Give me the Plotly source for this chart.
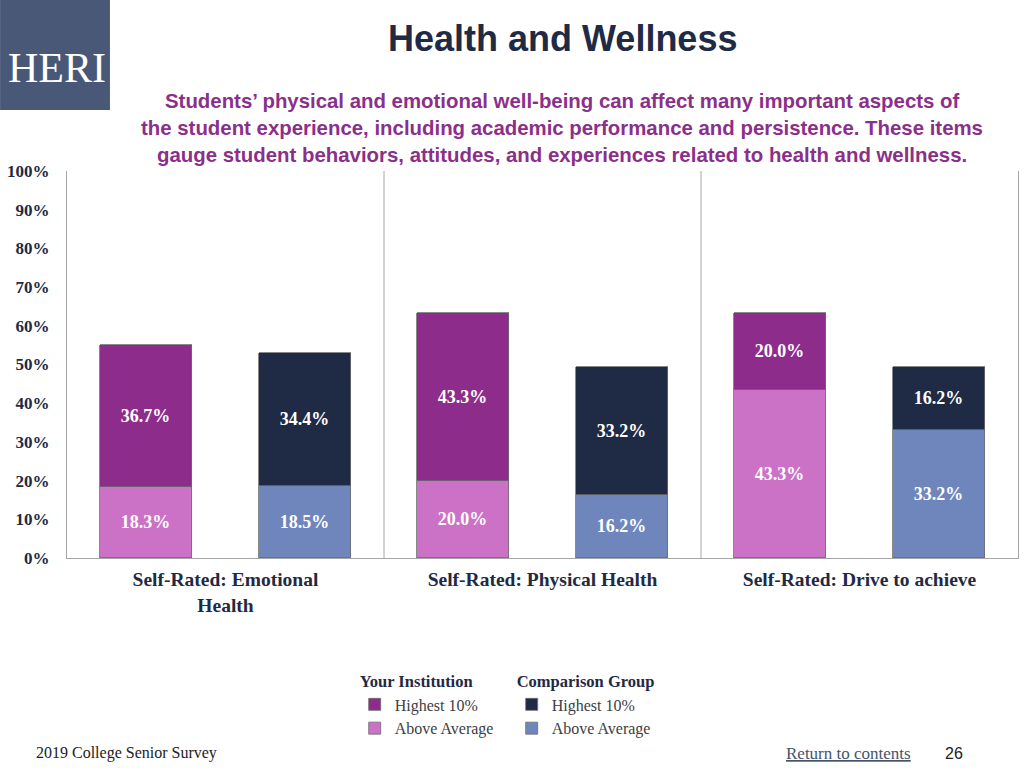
import plotly.graph_objects as go

# ---- data ----
categories = ["Self-Rated: Emotional<br>Health", "Self-Rated: Physical Health", "Self-Rated: Drive to achieve"]
yi_above = [18.3, 20.0, 43.3]
yi_highest = [36.7, 43.3, 20.0]
cg_above = [18.5, 16.2, 33.2]
cg_highest = [34.4, 33.2, 16.2]
y_ticks = [0, 10, 20, 30, 40, 50, 60, 70, 80, 90, 100]
y_tick_labels = [f"{v}%" for v in y_ticks]

title_text = "Health and Wellness"
subtitle_lines = [
    "Students’ physical and emotional well-being can affect many important aspects of",
    "the student experience, including academic performance and persistence. These items",
    "gauge student behaviors, attitudes, and experiences related to health and wellness.",
]

# ---- styles ----
C_YI_HI = "#8E2C8C"
C_YI_AV = "#CC72C6"
C_CG_HI = "#1F2A44"
C_CG_AV = "#6F86BD"
NAVY = "#1F2A44"
GRID = "#A6A6A6"
SERIF = "Liberation Serif"
SANS = "Liberation Sans"

idx = list(range(len(categories)))
x_yi = [i - 0.25 for i in idx]
x_cg = [i + 0.25 for i in idx]
BW = 0.29

fig = go.Figure()

def add_bar(x, y, color, name, group, gtitle, rank):
    fig.add_trace(go.Bar(
        x=x, y=y, width=BW, name=name,
        marker=dict(color=color, line=dict(color="#6b6b6b", width=0.8)),
        texttemplate="%{y:.1f}%", textposition="inside", insidetextanchor="middle",
        textangle=0, constraintext="none",
        textfont=dict(family=SERIF, size=18, color="white", weight="bold"),
        legendgroup=group,
        legendgrouptitle=dict(text=gtitle, font=dict(family=SERIF, size=16.5, color=NAVY, weight="bold")),
        legendrank=rank, hoverinfo="skip",
    ))

add_bar(x_yi, yi_above, C_YI_AV, "Above Average", "yi", "Your Institution", 2)
add_bar(x_yi, yi_highest, C_YI_HI, "Highest 10%", "yi", "Your Institution", 1)
add_bar(x_cg, cg_above, C_CG_AV, "Above Average", "cg", "Comparison Group", 4)
add_bar(x_cg, cg_highest, C_CG_HI, "Highest 10%", "cg", "Comparison Group", 3)

def px_x(px):
    return (px - 67) / 952

def px_y(py):
    return (558 - py) / 387

shapes = []
for i in idx[:-1]:
    shapes.append(dict(type="line", xref="x", yref="y", x0=i + 0.5, x1=i + 0.5, y0=0, y1=100,
                       line=dict(color=GRID, width=1)))
# logo box
shapes.append(dict(type="rect", xref="paper", yref="paper",
                   x0=px_x(0), x1=px_x(110), y0=px_y(0), y1=px_y(110),
                   fillcolor="#4A5878", line=dict(width=0), layer="below"))

annotations = [
    dict(text="HERI", x=px_x(57), y=px_y(68), xref="paper", yref="paper", showarrow=False,
         font=dict(family=SERIF, size=42, color="white"), xanchor="center", yanchor="middle"),
    dict(text=title_text, x=px_x(563), y=px_y(38), xref="paper", yref="paper", showarrow=False,
         font=dict(family=SANS, size=36, color=NAVY, weight="bold"), xanchor="center", yanchor="middle"),
    dict(text="2019 College Senior Survey", x=px_x(34), y=px_y(753), xref="paper", yref="paper",
         showarrow=False, font=dict(family=SERIF, size=16, color="#222222"), xanchor="left", yanchor="middle"),
    dict(text="<u>Return to contents</u>", x=px_x(914), y=px_y(753), xref="paper", yref="paper",
         showarrow=False, font=dict(family=SERIF, size=17, color="#44546A"), xanchor="right", yanchor="middle"),
    dict(text="26", x=px_x(955), y=px_y(753), xref="paper", yref="paper",
         showarrow=False, font=dict(family=SANS, size=16, color="#222222"), xanchor="center", yanchor="middle"),
]
for k, line in enumerate(subtitle_lines):
    annotations.append(dict(text=line, x=px_x(563), y=px_y(101 + 27 * k), xref="paper", yref="paper",
                            showarrow=False, font=dict(family=SANS, size=20.4, color="#8B2F8B", weight="bold"),
                            xanchor="center", yanchor="middle"))

fig.update_layout(
    width=1024, height=768,
    margin=dict(l=67, r=6, t=171, b=210),
    paper_bgcolor="white", plot_bgcolor="white",
    barmode="stack",
    bargap=0,
    showlegend=True,
    legend=dict(orientation="h", x=px_x(355), y=px_y(663), xanchor="left", yanchor="top",
                traceorder="grouped", font=dict(family=SERIF, size=16, color="#404040"),
                itemwidth=30, tracegroupgap=10, entrywidth=112, entrywidthmode="pixels",
                bgcolor="rgba(0,0,0,0)"),
    xaxis=dict(range=[-0.5, len(categories) - 0.5], tickvals=idx, ticktext=categories,
               showgrid=False, zeroline=False, showline=True, linecolor=GRID, linewidth=1,
               ticks="", ticklabelstandoff=4,
               tickfont=dict(family=SERIF, size=19.5, color=NAVY, weight="bold"),
               fixedrange=True),
    yaxis=dict(range=[0, 100], tickvals=y_ticks, ticktext=y_tick_labels,
               showgrid=False, zeroline=False, showline=True, mirror=True, linecolor=GRID, linewidth=1,
               ticks="", ticklabelstandoff=13,
               tickfont=dict(family=SERIF, size=17, color=NAVY, weight="bold"), fixedrange=True),
    shapes=shapes,
    annotations=annotations,
)

fig.write_html("out.html", config={"displayModeBar": False},
               post_script="document.body.style.margin='0';")
